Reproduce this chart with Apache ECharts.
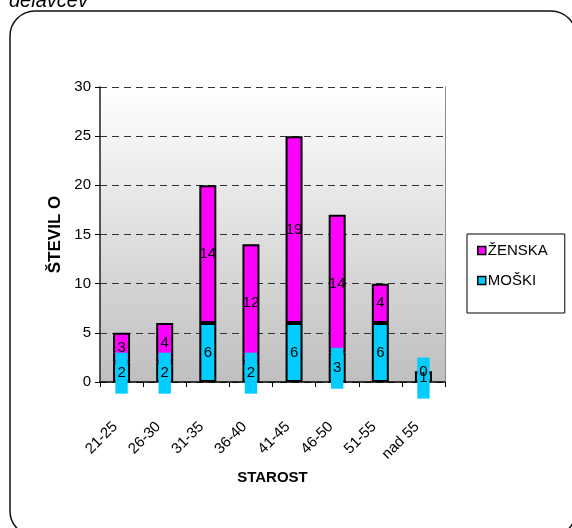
<!DOCTYPE html>
<html>
<head>
<meta charset="utf-8">
<script src="https://cdn.jsdelivr.net/npm/echarts@6/dist/echarts.min.js"></script>
<style>
  html, body { margin: 0; padding: 0; background: #fff; }
  #chart { width: 572px; height: 528px; }
</style>
</head>
<body>
<div id="chart"></div>
<script>
// Age groups and head counts by gender
const starost = ['21-25', '26-30', '31-35', '36-40', '41-45', '46-50', '51-55', 'nad 55'];
const moski  = [2, 2, 6, 2, 6, 3, 6, 1];
const zenska = [3, 4, 14, 12, 19, 14, 4, 0];
const yTicks = { min: 0, max: 30, interval: 5 };

const FONT = 'Liberation Sans, Arial, sans-serif';
const CYAN = '#00ccff';
const MAGENTA = '#ff00ff';

// small male segments get their value printed on a filled tag
const moskiData = moski.map(v => v < 4 ? {
  value: v,
  label: { backgroundColor: CYAN, padding: [9, 2, 17, 2], offset: [0, 1] }
} : v);

const chart = echarts.init(document.getElementById('chart'), null, { renderer: 'canvas' });

const barLabel = { show: true, position: 'inside', color: '#000', fontSize: 15, fontFamily: FONT };

chart.setOption({
  animation: false,
  textStyle: { fontFamily: FONT },
  graphic: [
    {
      type: 'rect', z: -10,
      shape: { x: 10, y: 11, width: 566, height: 525, r: 25 },
      style: { fill: 'none', stroke: '#111', lineWidth: 1.5 }
    },
    {
      type: 'text', left: 9, top: -9,
      style: { text: 'delavcev', font: 'italic 20px ' + FONT, fill: '#000' }
    }
  ],
  legend: {
    orient: 'vertical',
    left: 467, top: 234,
    data: ['ŽENSKA', 'MOŠKI'],
    borderColor: '#000', borderWidth: 1,
    padding: [9, 17, 25, 10],
    itemGap: 15,
    itemWidth: 8, itemHeight: 8,
    icon: 'rect',
    itemStyle: { borderColor: '#000', borderWidth: 1.5 },
    textStyle: { fontSize: 15, color: '#000', fontFamily: FONT, padding: [0, 0, 0, -3] }
  },
  grid: {
    left: 100, right: 127, top: 87, bottom: 146,
    show: true, borderWidth: 0,
    backgroundColor: new echarts.graphic.LinearGradient(0, 0, 0, 1, [
      { offset: 0, color: '#ffffff' },
      { offset: 1, color: '#bfbfbf' }
    ])
  },
  xAxis: {
    type: 'category',
    data: starost,
    name: 'STAROST',
    nameLocation: 'middle',
    nameGap: 88,
    nameTextStyle: { fontSize: 15, fontWeight: 'bold', color: '#000', fontFamily: FONT },
    axisLine: { lineStyle: { color: '#000', width: 1.5 } },
    axisTick: { show: true, length: 5, lineStyle: { color: '#000' } },
    axisLabel: { rotate: 45, margin: 36, fontSize: 15, color: '#000', fontFamily: FONT, padding: [0, 9, 0, 0] }
  },
  yAxis: [
    {
      type: 'value',
      min: yTicks.min, max: yTicks.max, interval: yTicks.interval,
      name: 'ŠTEVIL O',
      nameLocation: 'middle',
      nameGap: 36,
      nameTextStyle: { fontSize: 17, fontWeight: 'bold', color: '#000', fontFamily: FONT },
      axisLine: { show: true, lineStyle: { color: '#222', width: 1.5 } },
      axisTick: { show: true, length: 5, lineStyle: { color: '#000' } },
      axisLabel: { margin: 9, fontSize: 15, color: '#000', fontFamily: FONT },
      splitLine: { show: true, lineStyle: { color: '#333', type: [7, 5], width: 1 } }
    },
    {
      type: 'value', position: 'right',
      min: yTicks.min, max: yTicks.max, interval: yTicks.interval,
      axisLine: { show: true, lineStyle: { color: '#8c8c8c', width: 1 } },
      axisTick: { show: false }, axisLabel: { show: false }, splitLine: { show: false }
    }
  ],
  series: [
    {
      name: 'MOŠKI', type: 'bar', stack: 'skupaj',
      data: moskiData,
      barWidth: 17,
      itemStyle: { color: CYAN, borderColor: '#000', borderWidth: 2 },
      label: barLabel
    },
    {
      name: 'ŽENSKA', type: 'bar', stack: 'skupaj',
      data: zenska,
      barWidth: 17,
      itemStyle: { color: MAGENTA, borderColor: '#000', borderWidth: 2 },
      label: barLabel
    }
  ]
});
</script>
</body>
</html>
